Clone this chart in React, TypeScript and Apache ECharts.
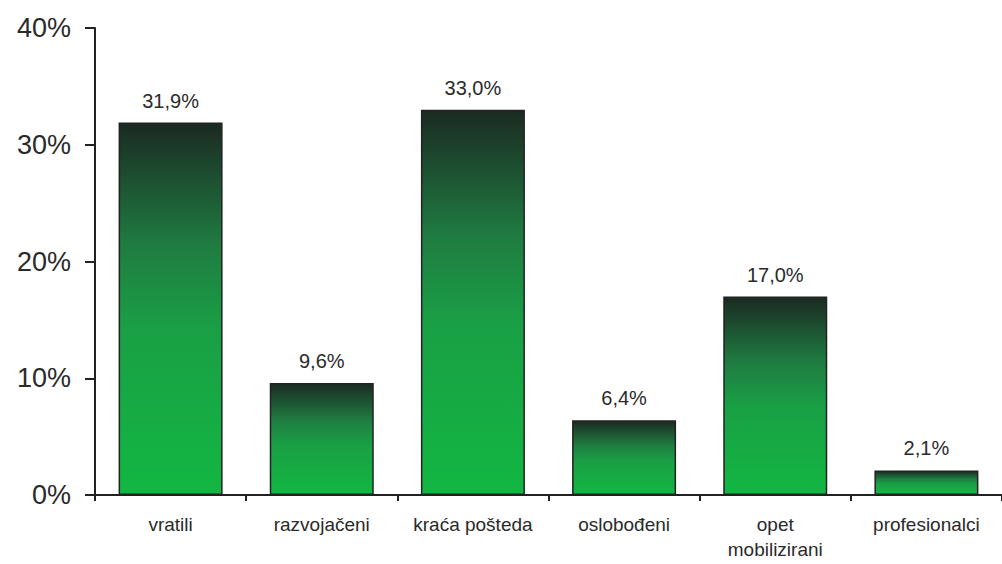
import React, { useEffect, useRef } from "react";
import * as echarts from "echarts";

const categories = ["vratili", "razvojačeni", "kraća pošteda", "oslobođeni", "opet\nmobilizirani", "profesionalci"];
const values = [31.9, 9.6, 33.0, 6.4, 17.0, 2.1];
const yTicks = [0, 10, 20, 30, 40];

export default function App() {
  const ref = useRef<HTMLDivElement>(null);
  useEffect(() => {
    document.body.style.margin = "0";
    const chart = echarts.init(ref.current!, null, { renderer: "svg" });
    const font = "Arial, 'Liberation Sans', sans-serif";
    const grad = new echarts.graphic.LinearGradient(0, 0, 0, 1, [
      { offset: 0, color: "#1b2a22" },
      { offset: 0.1, color: "#1c432c" },
      { offset: 0.33, color: "#1f7c41" },
      { offset: 0.55, color: "#1a9f45" },
      { offset: 1, color: "#12b742" },
    ]);
    chart.setOption({
      animation: false,
      backgroundColor: "#ffffff",
      grid: { left: 95, top: 28, bottom: 69, width: 912, containLabel: false },
      xAxis: {
        type: "category",
        data: categories,
        axisLine: { lineStyle: { color: "#222", width: 2 } },
        axisTick: { show: true, length: 6, inside: false, lineStyle: { color: "#222", width: 2 } },
        axisLabel: { color: "#2a2a2a", fontSize: 19, fontFamily: font, margin: 17, lineHeight: 25, interval: 0 },
      },
      yAxis: {
        type: "value",
        min: 0,
        max: yTicks[yTicks.length - 1],
        interval: 10,
        splitLine: { show: false },
        axisLine: { show: true, lineStyle: { color: "#222", width: 2 } },
        axisTick: { show: true, length: 10, lineStyle: { color: "#222", width: 2 } },
        axisLabel: { color: "#2a2a2a", fontSize: 27, fontFamily: font, margin: 24, formatter: "{value}%" },
      },
      series: [
        {
          type: "bar",
          data: values,
          barWidth: 104,
          itemStyle: { color: grad, borderColor: "#222", borderWidth: 1.5 },
          label: {
            show: true,
            position: "top",
            distance: 12,
            color: "#2a2a2a",
            fontSize: 20,
            fontFamily: font,
            formatter: (p: any) => p.value.toFixed(1).replace(".", ",") + "%",
          },
        },
      ],
    });
    return () => chart.dispose();
  }, []);
  return <div ref={ref} style={{ width: 1002, height: 564 }} />;
}
